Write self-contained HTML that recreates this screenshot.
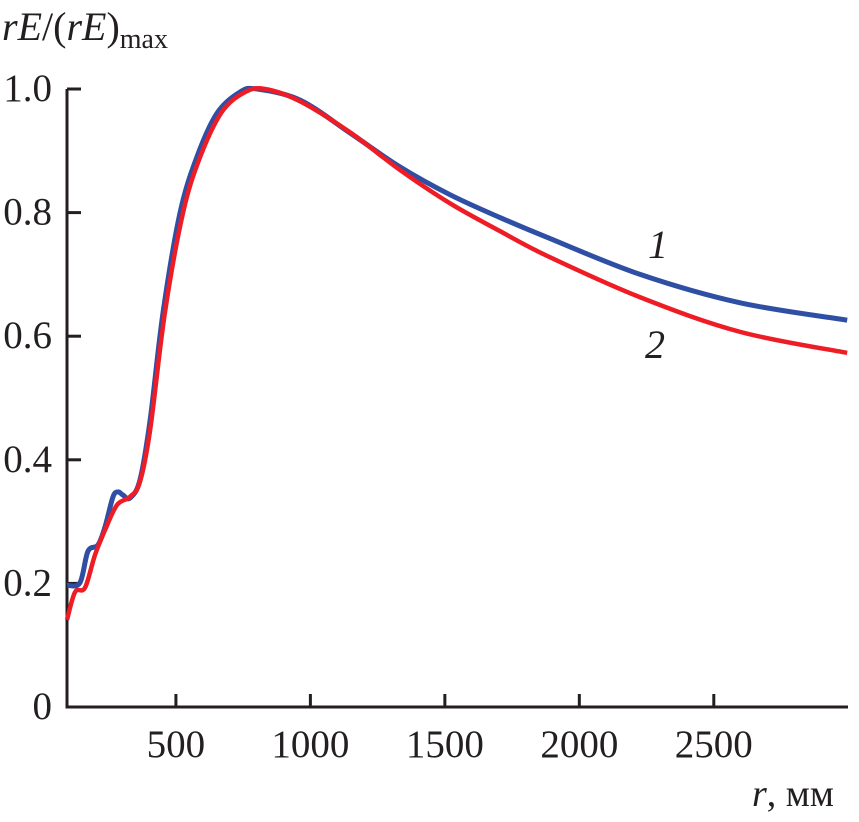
<!DOCTYPE html>
<html><head><meta charset="utf-8"><style>
html,body{margin:0;padding:0;background:#fff;}
svg text{font-family:"Liberation Serif",serif;fill:#231f20;}
</style></head><body>
<svg width="859" height="817" xmlns="http://www.w3.org/2000/svg">
<g id="axes"></g>
<g id="series"></g>
<text x="2" y="40" font-size="40"><tspan font-style="italic">rE</tspan>/(<tspan font-style="italic">rE</tspan>)<tspan font-size="28" dy="8">max</tspan></text>
<text x="752" y="806" font-size="38"><tspan font-style="italic">r</tspan>, мм</text>
<text x="648" y="258" font-size="40" font-style="italic">1</text>
<text x="645" y="358" font-size="40" font-style="italic">2</text>
</svg>
<script>
const xTicks=[500,1000,1500,2000,2500];
const yTicks=[0,0.2,0.4,0.6,0.8,1.0];
const yTickLabels=["0","0.2","0.4","0.6","0.8","1.0"];
const blueX=[95,143,173,210,236,266,285,303,329,366,404,452,515,578,653,738,802,962,1147,1333,1519,1705,1880,2226,2598,2996];
const blueY=[.197,.201,.252,.262,.291,.340,.348,.343,.338,.367,.464,.638,.799,.890,.961,.995,1.0,.982,.929,.874,.829,.792,.760,.700,.654,.626];
const redX=[95,125,162,199,236,281,329,366,404,459,526,590,671,757,831,962,1147,1333,1519,1705,1880,2226,2598,2996];
const redY=[.141,.186,.193,.246,.286,.327,.340,.364,.448,.638,.799,.890,.963,.995,1.0,.980,.930,.869,.815,.770,.730,.663,.607,.573];
const X0=67,X1=848,Y0=707,Y1=89;
function sx(v){return X0+(v-95)*(X1-X0)/(2999-95);}
function sy(v){return Y0-v*(Y0-Y1);}
const NS="http://www.w3.org/2000/svg";
const axes=document.getElementById('axes');
function mk(tag,attrs,parent){const e=document.createElementNS(NS,tag);for(const k in attrs)e.setAttribute(k,attrs[k]);parent.appendChild(e);return e;}
let a=mk('path',{d:`M${X0},${Y1} V${Y0} H${X1}`,fill:'none',stroke:'#231f20','stroke-width':3},axes);


xTicks.forEach(t=>{
  const l=mk('line',{x1:sx(t),x2:sx(t),y1:Y0,y2:Y0-13,stroke:'#231f20','stroke-width':3},axes);
  
  
  const tx=mk('text',{x:sx(t),y:Y0+50,'font-size':39,'text-anchor':'middle'},axes);
  tx.textContent=t;
  
  
});
yTicks.forEach((t,i)=>{
  if(t>0){const l=mk('line',{x1:X0,x2:X0+14,y1:sy(t),y2:sy(t),stroke:'#231f20','stroke-width':3},axes);
  
  }
  const tx=mk('text',{x:52,y:sy(t)+12,'font-size':39,'text-anchor':'end'},axes);
  tx.textContent=yTickLabels[i];
  
  
});
function pathOf(xs,ys){
  const p=xs.map((x,i)=>[sx(x),sy(ys[i])]);
  let d=`M${p[0][0]},${p[0][1]}`;
  for(let i=0;i<p.length-1;i++){
    const p0=p[Math.max(0,i-1)],p1=p[i],p2=p[i+1],p3=p[Math.min(p.length-1,i+2)];
    const c1=[p1[0]+(p2[0]-p0[0])/6,p1[1]+(p2[1]-p0[1])/6];
    const c2=[p2[0]-(p3[0]-p1[0])/6,p2[1]-(p3[1]-p1[1])/6];
    d+=` C${c1[0]},${c1[1]} ${c2[0]},${c2[1]} ${p2[0]},${p2[1]}`;
  }
  return d;
}
const sg=document.getElementById('series');
const b=mk('path',{d:pathOf(blueX,blueY),fill:'none',stroke:'#2e4fa3','stroke-width':5,'stroke-linejoin':'round'},sg);


const r=mk('path',{d:pathOf(redX,redY),fill:'none',stroke:'#ee1c25','stroke-width':4.5,'stroke-linejoin':'round'},sg);


</script>
</body></html>
